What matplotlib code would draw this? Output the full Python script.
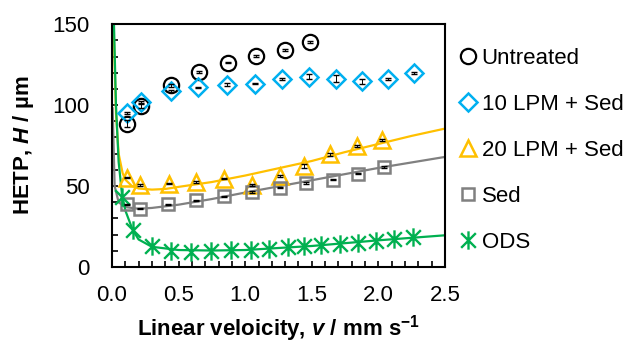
import numpy as np
import matplotlib.pyplot as plt
from matplotlib.path import Path
from matplotlib.ticker import MultipleLocator

plt.rcParams['font.family'] = 'Liberation Sans'
plt.rcParams['mathtext.fontset'] = 'custom'
plt.rcParams['mathtext.rm'] = 'Liberation Sans:bold'
plt.rcParams['mathtext.it'] = 'Liberation Sans:bold:italic'

# measured points
x_untr = [0.11, 0.22, 0.44, 0.65, 0.87, 1.08, 1.30, 1.49]
y_untr = [88.6, 99.3, 112.3, 120.5, 126.3, 130.4, 134.3, 138.9]
e_untr = [2.0, 1.2, 1.0, 0.6, 0.6, 0.6, 0.6, 0.5]

x_10 = [0.11, 0.22, 0.44, 0.645, 0.86, 1.07, 1.28, 1.48, 1.68, 1.88, 2.075, 2.27]
y_10 = [95.2, 102.0, 108.8, 110.9, 112.7, 113.3, 116.0, 117.5, 116.4, 114.8, 116.0, 119.9]
e_10 = [0.6, 0.8, 0.8, 0.5, 1.2, 0.5, 0.5, 1.5, 2.0, 1.5, 0.5, 0.5]

x_20 = [0.11, 0.21, 0.425, 0.63, 0.84, 1.05, 1.26, 1.44, 1.64, 1.84, 2.03]
y_20 = [55.2, 50.5, 51.5, 52.5, 54.6, 50.5, 56.3, 62.4, 69.6, 74.6, 78.3]
e_20 = [0.5, 0.5, 0.5, 0.5, 0.5, 0.5, 0.5, 1.2, 0.8, 0.6, 0.6]

x_sed = [0.11, 0.21, 0.42, 0.63, 0.84, 1.05, 1.26, 1.46, 1.66, 1.85, 2.045]
y_sed = [38.7, 36.1, 38.7, 41.2, 43.7, 46.4, 49.0, 51.9, 54.0, 57.7, 61.8]
e_sed = [0.4, 0.4, 0.4, 0.4, 0.4, 0.4, 0.4, 0.4, 0.4, 0.4, 0.4]

x_ods = [0.075, 0.155, 0.30, 0.44, 0.59, 0.74, 0.89, 1.04, 1.18, 1.325, 1.44, 1.57, 1.71, 1.845, 1.98, 2.12, 2.26]
y_ods = [43.3, 23.1, 12.8, 9.9, 9.3, 9.9, 10.3, 10.7, 11.3, 12.4, 12.8, 13.4, 14.4, 15.0, 16.1, 17.3, 18.5]

# fitted curves
fx_20 = [0.012, 0.03, 0.05, 0.08, 0.1, 0.15, 0.2, 0.3, 0.4, 0.5, 0.75, 1.0, 1.25, 1.5, 1.75, 2.0, 2.25, 2.5]
fy_20 = [150, 95, 70, 58, 54, 50, 48.5, 47.8, 48.2, 49.5, 52.5, 56.5, 61, 65.5, 71, 76, 81, 85.5]

fx_sed = [0.005, 0.02, 0.05, 0.1, 0.2, 0.3, 0.5, 0.75, 1.0, 1.25, 1.5, 1.75, 2.0, 2.25, 2.5]
fy_sed = [98, 50, 40, 37, 36, 36.5, 38.5, 42, 46, 49.8, 53.6, 57.4, 61.2, 64.6, 68]

fx_ods = [0.015, 0.03, 0.05, 0.075, 0.1, 0.155, 0.2, 0.3, 0.5, 0.75, 1.0, 1.5, 2.0, 2.5]
fy_ods = [150, 100, 65, 45, 35, 23, 17, 12.5, 10.5, 10.2, 10.5, 13, 16.5, 19.6]

# asterisk marker like excel
star = Path([(0, -1), (0, 1), (-0.8, -0.8), (0.8, 0.8), (-0.8, 0.8), (0.8, -0.8)],
            [Path.MOVETO, Path.LINETO, Path.MOVETO, Path.LINETO, Path.MOVETO, Path.LINETO])

blue = '#00B0F0'
yellow = '#FFC000'
grey = '#808080'
green = '#00B050'

fig = plt.figure(figsize=(6.38, 3.45), dpi=100)
ax = fig.add_axes([0.1755, 0.226, 0.522, 0.704])

ax.plot(fx_20, fy_20, color=yellow, lw=1.6, zorder=2)
ax.plot(fx_sed, fy_sed, color=grey, lw=1.6, zorder=2)
ax.plot(fx_ods, fy_ods, color=green, lw=1.6, zorder=2)

ms = 11
ax.plot(x_untr, y_untr, 'o', ms=ms, mfc='none', mec='black', mew=1.6, label='Untreated', zorder=3)
ax.plot(x_10, y_10, 'D', ms=ms * 0.85, mfc='none', mec=blue, mew=1.8, label='10 LPM + Sed', zorder=3)
ax.plot(x_20, y_20, '^', ms=ms * 1.05, mfc='none', mec=yellow, mew=1.8, label='20 LPM + Sed', zorder=3)
ax.plot(x_sed, y_sed, 's', ms=ms * 0.85, mfc='none', mec=grey, mew=1.8, label='Sed', zorder=3)
ax.plot(x_ods, y_ods, marker=star, ls='none', ms=ms * 1.2, mec=green, mew=1.7, label='ODS', zorder=3)

for xs, ys, es in [(x_untr, y_untr, e_untr), (x_10, y_10, e_10), (x_20, y_20, e_20), (x_sed, y_sed, e_sed)]:
    ax.errorbar(xs, ys, yerr=es, fmt='none', ecolor='black', elinewidth=0.7, capsize=2.2, capthick=1.0, zorder=4)

ax.set_xlim(0, 2.5)
ax.set_ylim(0, 150)
ax.xaxis.set_major_locator(MultipleLocator(0.5))
ax.xaxis.set_minor_locator(MultipleLocator(0.1))
ax.yaxis.set_major_locator(MultipleLocator(50))
ax.yaxis.set_minor_locator(MultipleLocator(10))
ax.xaxis.set_major_formatter(plt.FormatStrFormatter('%.1f'))
ax.tick_params(which='both', direction='in', length=4, width=1.2, labelsize=16, top=False, right=False)
ax.tick_params(axis='x', pad=13)
ax.tick_params(axis='y', pad=16)
for s in ax.spines.values():
    s.set_linewidth(1.5)

ax.set_xlabel('Linear veloicity, $\\it{v}$ / mm s$^{-1}$', fontsize=16, fontweight='bold', labelpad=5)
ax.set_ylabel('HETP, $\\it{H}$ / µm', fontsize=16, fontweight='bold', labelpad=12)

ax.legend(loc='upper left', bbox_to_anchor=(1.0, 0.972), frameon=False, fontsize=16,
          handlelength=0.6, handletextpad=0.3, labelspacing=1.13, borderaxespad=0.35)

fig.savefig('out.png', dpi=100)
